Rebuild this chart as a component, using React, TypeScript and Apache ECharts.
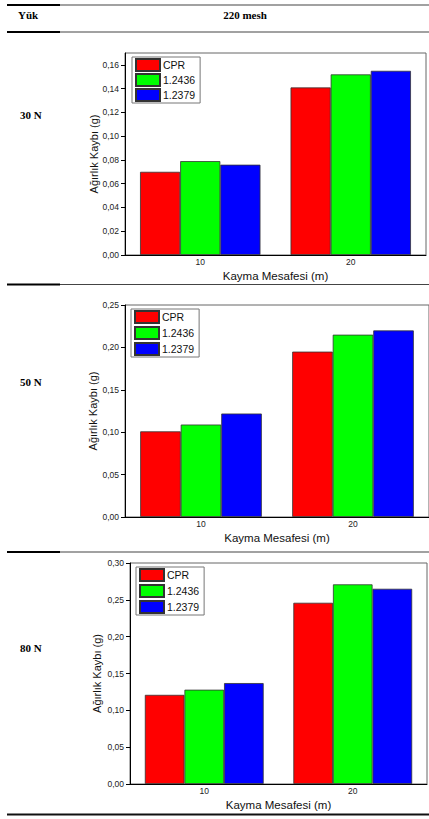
import React, { useEffect, useRef } from "react";
import * as echarts from "echarts";

const categories = ["10", "20"];
const seriesNames = ["CPR", "1.2436", "1.2379"];
const seriesColors = ["#ff0000", "#00ff00", "#0000ff"];

// 30 N
const cpr30 = [0.070, 0.141];
const s2436_30 = [0.079, 0.152];
const s2379_30 = [0.076, 0.155];
// 50 N
const cpr50 = [0.101, 0.195];
const s2436_50 = [0.109, 0.215];
const s2379_50 = [0.122, 0.220];
// 80 N
const cpr80 = [0.121, 0.246];
const s2436_80 = [0.128, 0.271];
const s2379_80 = [0.137, 0.265];

const yTicks30 = [0, 0.02, 0.04, 0.06, 0.08, 0.1, 0.12, 0.14, 0.16];
const yTicks50 = [0, 0.05, 0.1, 0.15, 0.2, 0.25];
const yTicks80 = [0, 0.05, 0.1, 0.15, 0.2, 0.25, 0.3];
const yMax = [0.17, 0.25, 0.3];

const loadLabels = ["30 N", "50 N", "80 N"];
const headerLeft = "Yük";
const headerRight = "220 mesh";
const xName = "Kayma Mesafesi (m)";
const yName = "Ağırlık Kaybı (g)";

const groups = [
  [cpr30, s2436_30, s2379_30],
  [cpr50, s2436_50, s2379_50],
  [cpr80, s2436_80, s2379_80],
];
const tickSets = [yTicks30, yTicks50, yTicks80];

const grids = [
  { left: 125, top: 53, width: 301, height: 202 },
  { left: 125, top: 305, width: 304, height: 212 },
  { left: 130, top: 563, width: 297, height: 221 },
];
const legendPos = [
  { left: 132, top: 57, gap: 1 },
  { left: 131, top: 309, gap: 2 },
  { left: 136, top: 567, gap: 2 },
];
const yNameGaps = [26, 27, 28];
const rowLabelY = [115, 382, 648];
const tableLinesY = [5, 32, 284.5, 552];

const SANS = "Liberation Sans, Arial, sans-serif";
const SERIF = "Liberation Serif, Times New Roman, serif";

export default function App() {
  const ref = useRef<HTMLDivElement>(null);

  useEffect(() => {
    if (!ref.current) return;
    const chart = echarts.init(ref.current, undefined, { renderer: "svg" });

    const fmt = (v: number) => v.toFixed(2).replace(".", ",");

    const graphic: any[] = [];
    tableLinesY.forEach((y) => {
      graphic.push({
        type: "line",
        shape: { x1: 60, y1: y, x2: 429, y2: y },
        style: { stroke: "#444", lineWidth: 1.2 },
      });
      graphic.push({
        type: "line",
        shape: { x1: 7, y1: y, x2: 60, y2: y },
        style: { stroke: "#000", lineWidth: 2.2 },
      });
    });
    graphic.push({
      type: "line",
      shape: { x1: 7, y1: 814.5, x2: 429, y2: 814.5 },
      style: { stroke: "#111", lineWidth: 2 },
    });
    graphic.push({
      type: "text",
      x: 18,
      y: 15,
      style: {
        text: headerLeft,
        font: `bold 11px ${SERIF}`,
        fill: "#000",
        verticalAlign: "middle",
      },
    });
    graphic.push({
      type: "text",
      x: 245,
      y: 15,
      style: {
        text: headerRight,
        font: `bold 11px ${SERIF}`,
        fill: "#000",
        align: "center",
        verticalAlign: "middle",
      },
    });
    loadLabels.forEach((t, i) => {
      graphic.push({
        type: "text",
        x: 20,
        y: rowLabelY[i],
        style: {
          text: t,
          font: `bold 11px ${SERIF}`,
          fill: "#000",
          verticalAlign: "middle",
        },
      });
    });

    const xAxis = grids.map((_, i) => ({
      type: "category",
      gridIndex: i,
      data: categories,
      name: xName,
      nameLocation: "middle",
      nameGap: 15,
      nameMoveOverlap: false,
      nameTextStyle: { fontFamily: SANS, fontSize: 11.5, color: "#111" },
      axisLine: { lineStyle: { color: "#000", width: 1 } },
      axisTick: { show: false },
      axisLabel: { fontFamily: SANS, fontSize: 8.5, color: "#222", margin: 2 },
    }));

    const yAxis = grids.map((_, i) => ({
      type: "value",
      gridIndex: i,
      min: 0,
      max: yMax[i],
      name: yName,
      nameLocation: "middle",
      nameGap: yNameGaps[i],
      nameMoveOverlap: false,
      nameTextStyle: { fontFamily: SANS, fontSize: 11, color: "#111" },
      axisLine: { show: true, lineStyle: { color: "#000", width: 1 } },
      axisTick: {
        show: true,
        length: 4,
        customValues: tickSets[i],
        lineStyle: { color: "#000" },
      },
      axisLabel: {
        fontFamily: SANS,
        fontSize: 8.5,
        color: "#222",
        margin: 6,
        customValues: tickSets[i],
        formatter: fmt,
      },
      splitLine: { show: false },
    }));

    const series: any[] = [];
    groups.forEach((g, gi) => {
      g.forEach((vals, si) => {
        series.push({
          type: "bar",
          name: seriesNames[si],
          xAxisIndex: gi,
          yAxisIndex: gi,
          data: vals,
          barGap: "0%",
          barCategoryGap: "20%",
          itemStyle: {
            color: seriesColors[si],
            borderColor: "#333",
            borderWidth: 0.8,
          },
        });
      });
    });

    const legend = legendPos.map((p) => ({
      data: seriesNames.map((n) => ({ name: n, icon: "rect" })),
      left: p.left,
      top: p.top,
      orient: "vertical",
      icon: "rect",
      itemWidth: 24,
      itemHeight: 12,
      itemGap: p.gap,
      padding: [1, 5, 1, 3],
      borderColor: "#777",
      borderWidth: 1,
      backgroundColor: "#fff",
      selectedMode: false,
      textStyle: {
        fontFamily: SANS,
        fontSize: 10.5,
        color: "#111",
        padding: [0, 0, 0, -2],
      },
    }));

    chart.setOption({
      animation: false,
      backgroundColor: "#fff",
      grid: grids.map((g) => ({
        ...g,
        show: true,
        borderColor: "#666",
        borderWidth: 1,
        containLabel: false,
      })),
      xAxis,
      yAxis,
      legend,
      series,
      graphic,
    });

    return () => chart.dispose();
  }, []);

  return (
    <div
      ref={ref}
      style={{ position: "absolute", left: 0, top: 0, width: 429, height: 819 }}
    />
  );
}
